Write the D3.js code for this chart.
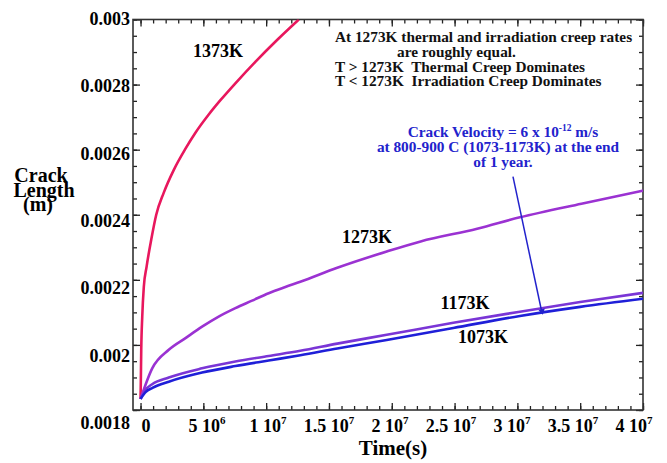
<!DOCTYPE html>
<html>
<head>
<meta charset="utf-8">
<script src="https://cdn.jsdelivr.net/npm/d3@7"></script>
<style>
  body { margin: 0; background: #fff; }
  text { font-family: "Liberation Serif", "Times New Roman", serif; font-weight: bold; white-space: pre; }
</style>
</head>
<body>
<svg id="svg"></svg>
<script>
// values (time in s, crack length in m)
const t1373 = [0, 0.02e6, 0.056e6, 0.135e6, 0.26e6, 0.48e6, 0.85e6, 1.25e6, 1.85e6, 2.65e6, 3.58e6, 4.37e6, 5.43e6, 6.36e6, 7.55e6, 9.14e6, 10.87e6, 12.6e6];
const L1373 = [0.001834, 0.00188, 0.001985, 0.002086, 0.002178, 0.00224, 0.002323, 0.0024, 0.002468, 0.002538, 0.002603, 0.002652, 0.002708, 0.002752, 0.002804, 0.00287, 0.002937, 0.003];

const t1273 = [0, 0.93e6, 2.25e6, 3.58e6, 4.9e6, 6.22e6, 7.55e6, 8.88e6, 10.2e6, 11.53e6, 12.72e6, 15.66e6, 19.6e6, 22.3e6, 26.8e6, 30.2e6, 35.1e6, 40e6];
const L1273 = [0.001834, 0.001928, 0.001985, 0.002021, 0.002056, 0.002087, 0.002113, 0.002136, 0.002159, 0.002178, 0.002194, 0.002237, 0.002287, 0.002318, 0.002357, 0.002392, 0.002434, 0.002474];

const t1173 = [0, 0.4e6, 0.95e6, 2.25e6, 4.9e6, 7.55e6, 10.2e6, 12.72e6, 15.66e6, 19.6e6, 24.9e6, 30.2e6, 35e6, 40e6];
const L1173 = [0.001834, 0.001862, 0.00188, 0.0019, 0.001928, 0.001949, 0.001966, 0.001982, 0.002004, 0.002031, 0.002068, 0.002102, 0.002132, 0.00216];

const t1073 = [0, 0.4e6, 0.95e6, 2.25e6, 4.9e6, 7.55e6, 10.2e6, 12.72e6, 15.66e6, 19.6e6, 24.9e6, 30.2e6, 35e6, 40e6];
const L1073 = [0.001834, 0.001855, 0.001868, 0.001887, 0.001915, 0.001935, 0.001952, 0.001968, 0.001989, 0.002015, 0.002052, 0.002089, 0.002117, 0.002142];

const seriesNames = ['1373K', '1273K', '1173K', '1073K'];

const xTicks = [0, 5e6, 1e7, 1.5e7, 2e7, 2.5e7, 3e7, 3.5e7, 4e7];
const xTickLabels = [['0', ''], ['5 10', '6'], ['1 10', '7'], ['1.5 10', '7'], ['2 10', '7'], ['2.5 10', '7'], ['3 10', '7'], ['3.5 10', '7'], ['4 10', '7']];
const yTicks = [0.0018, 0.002, 0.0022, 0.0024, 0.0026, 0.0028, 0.003];
const yTickLabels = ['0.0018', '0.002', '0.0022', '0.0024', '0.0026', '0.0028', '0.003'];

// arrow from the velocity note down to the 1073K/1173K curves
const arrowT = [29.65e6, 31.96e6];
const arrowL = [0.002517, 0.002098];

const noteLines = [
  'At 1273K thermal and irradiation creep rates',
  'are roughly equal.',
  'T > 1273K  Thermal Creep Dominates',
  'T < 1273K  Irradiation Creep Dominates'
];

const width = 667;
const height = 463;
const plot = { left: 133, right: 643, top: 19.5, bottom: 410 };

const svg = d3.select('#svg')
  .attr('width', width)
  .attr('height', height);

// SCALES
const xScale = d3.scaleLinear()
  .domain([-6e5, 4e7])
  .range([plot.left, plot.right]);

const yScale = d3.scaleLinear()
  .domain([0.0018, 0.003])
  .range([plot.bottom, plot.top]);

// tick labels in the original sit on a slightly different spacing than the ticks
const xLabelScale = d3.scaleLinear().domain([0, 4e7]).range([146, 634]);
const yLabelScale = d3.scaleLinear().domain([0.0018, 0.003]).range([429, 25]);

const xMinor = d3.range(0, 40e6 + 1, 1e6);
const yMinor = d3.range(0, 25).map(i => 0.0018 + i * 0.00005);

// AXES (ticks pointing inwards on all four sides)
function tickAxis(axisFn, scale, values, size, transform) {
  svg.append('g')
    .attr('transform', transform)
    .call(axisFn(scale).tickValues(values).tickSize(size).tickFormat(''))
    .call(g => g.select('.domain').remove())
    .selectAll('line')
    .attr('stroke', '#222')
    .attr('stroke-width', 1.3);
}

tickAxis(d3.axisBottom, xScale, xMinor, -4, `translate(0, ${plot.bottom})`);
tickAxis(d3.axisBottom, xScale, xTicks, -7, `translate(0, ${plot.bottom})`);
tickAxis(d3.axisTop, xScale, xMinor, -4, `translate(0, ${plot.top})`);
tickAxis(d3.axisTop, xScale, xTicks, -7, `translate(0, ${plot.top})`);
tickAxis(d3.axisLeft, yScale, yMinor, -4, `translate(${plot.left}, 0)`);
tickAxis(d3.axisLeft, yScale, yTicks, -7, `translate(${plot.left}, 0)`);
tickAxis(d3.axisRight, yScale, yMinor, -4, `translate(${plot.right}, 0)`);
tickAxis(d3.axisRight, yScale, yTicks, -7, `translate(${plot.right}, 0)`);

// frame
svg.append('rect')
  .attr('x', plot.left)
  .attr('y', plot.top)
  .attr('width', plot.right - plot.left)
  .attr('height', plot.bottom - plot.top)
  .attr('fill', 'none')
  .attr('stroke', '#333')
  .attr('stroke-width', 1.6);

// X TICK LABELS
const xLab = svg.append('g')
  .selectAll('text')
  .data(xTicks)
  .enter()
  .append('text')
  .attr('x', d => xLabelScale(d))
  .attr('y', 432)
  .attr('text-anchor', 'middle')
  .attr('font-size', 18);
xLab.append('tspan').text((d, i) => xTickLabels[i][0]);
xLab.append('tspan')
  .attr('dy', -8)
  .attr('font-size', 11)
  .text((d, i) => xTickLabels[i][1]);

// Y TICK LABELS
svg.append('g')
  .selectAll('text')
  .data(yTicks)
  .enter()
  .append('text')
  .attr('x', 130)
  .attr('y', d => yLabelScale(d))
  .attr('text-anchor', 'end')
  .attr('font-size', 18)
  .text((d, i) => yTickLabels[i]);

// AXIS TITLES
svg.append('text')
  .attr('x', 393)
  .attr('y', 455)
  .attr('text-anchor', 'middle')
  .attr('font-size', 21)
  .text('Time(s)');

const yTitle = svg.append('text')
  .attr('text-anchor', 'middle')
  .attr('font-size', 20);
[['Crack', 41, 182], ['Length', 44, 197], ['(m)', 38, 211]].forEach(([s, x, y]) => {
  yTitle.append('tspan').attr('x', x).attr('y', y).text(s);
});

// CURVES
svg.append('clipPath')
  .attr('id', 'plot-clip')
  .append('rect')
  .attr('x', plot.left)
  .attr('y', plot.top)
  .attr('width', plot.right - plot.left)
  .attr('height', plot.bottom - plot.top);

const line = d3.line()
  .x(d => xScale(d[0]))
  .y(d => yScale(d[1]))
  .curve(d3.curveMonotoneX);

const curves = [
  { t: t1373, L: L1373, color: '#e8175d' },
  { t: t1273, L: L1273, color: '#9b32d2' },
  { t: t1173, L: L1173, color: '#7a35d6' },
  { t: t1073, L: L1073, color: '#1f1fd8' }
];

const curveGroup = svg.append('g').attr('clip-path', 'url(#plot-clip)');
curveGroup.selectAll('path')
  .data(curves)
  .enter()
  .append('path')
  .attr('d', c => line(c.t.map((t, i) => [t, c.L[i]])))
  .attr('fill', 'none')
  .attr('stroke', c => c.color)
  .attr('stroke-width', 2.6)
  .attr('stroke-linejoin', 'round');

// CURVE LABELS
const curveLabelPos = [[218, 57], [367, 243], [465, 309], [483, 343]];
svg.append('g')
  .selectAll('text')
  .data(seriesNames)
  .enter()
  .append('text')
  .attr('x', (d, i) => curveLabelPos[i][0])
  .attr('y', (d, i) => curveLabelPos[i][1])
  .attr('text-anchor', 'middle')
  .attr('font-size', 18)
  .text(d => d);

// NOTE (top right)
const note = svg.append('text')
  .attr('font-size', 15.3)
  .attr('fill', '#111');
noteLines.forEach((s, i) => {
  note.append('tspan')
    .attr('x', i === 1 ? 397 : 335)
    .attr('y', 42 + i * 14.8)
    .text(s);
});

// VELOCITY NOTE (blue)
const blue = '#2222cc';
const vel = svg.append('text')
  .attr('text-anchor', 'middle')
  .attr('font-size', 15.3)
  .attr('fill', blue);
const l1 = vel.append('tspan').attr('x', 503).attr('y', 137);
l1.append('tspan').text('Crack Velocity = 6 x 10');
l1.append('tspan').attr('dy', -6).attr('font-size', 9.5).text('-12');
l1.append('tspan').attr('dy', 6).text(' m/s');
vel.append('tspan').attr('x', 498).attr('y', 152).text('at 800-900 C (1073-1173K) at the end');
vel.append('tspan').attr('x', 503).attr('y', 166.5).text('of 1 year.');

svg.append('line')
  .attr('x1', xScale(arrowT[0]))
  .attr('y1', yScale(arrowL[0]))
  .attr('x2', xScale(arrowT[1]))
  .attr('y2', yScale(arrowL[1]))
  .attr('stroke', blue)
  .attr('stroke-width', 1.5);

svg.append('path')
  .attr('d', d3.symbol(d3.symbolTriangle, 18)())
  .attr('transform', `translate(${xScale(arrowT[1])}, ${yScale(arrowL[1]) - 2}) rotate(168)`)
  .attr('fill', blue);
</script>
</body>
</html>
